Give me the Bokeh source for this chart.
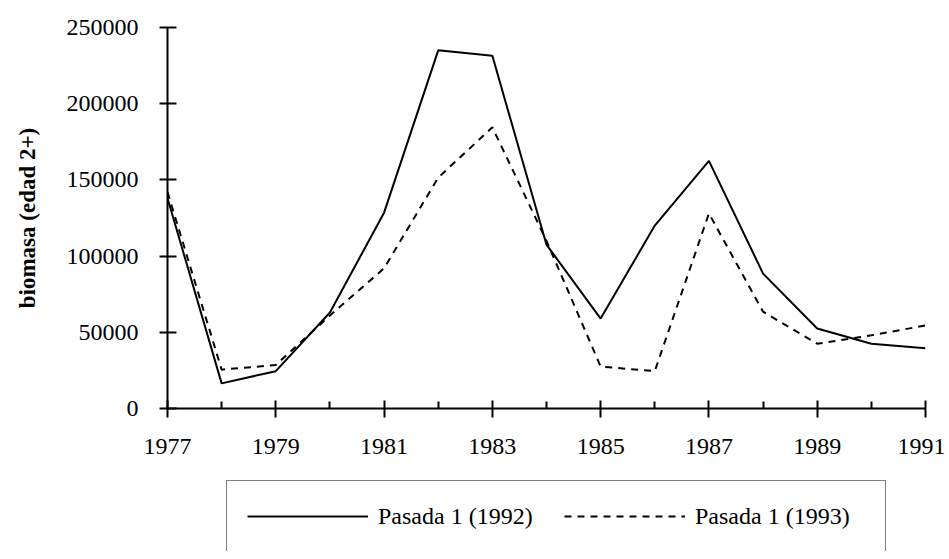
from bokeh.plotting import figure
from bokeh.layouts import column
from bokeh.models import (Range1d, FixedTicker, BasicTickFormatter, Legend, LegendItem)
from bokeh.embed import file_html
from bokeh.resources import INLINE

years = [1977, 1978, 1979, 1980, 1981, 1982, 1983, 1984, 1985, 1986, 1987, 1988, 1989, 1990, 1991]
run_1992 = [138000, 16500, 24500, 63000, 128500, 235000, 231500, 107500, 59000, 120000, 162500, 88500, 52500, 42500, 39500]
run_1993 = [142000, 25500, 28500, 61000, 92000, 151500, 184500, 110000, 27500, 24500, 128000, 63500, 42500, 48000, 54500]
x_major = [1977, 1979, 1981, 1983, 1985, 1987, 1989, 1991]
x_minor = [1978, 1980, 1982, 1984, 1986, 1988, 1990]
y_ticks = [0, 50000, 100000, 150000, 200000, 250000]
label_1992 = "Pasada 1 (1992)"
label_1993 = "Pasada 1 (1993)"
y_label = "biomasa (edad 2+)"

FONT = "Liberation Serif"
SOLID = dict(line_color="black", line_width=2)
DASHED = dict(line_color="black", line_width=2, line_dash="7 6")

p = figure(width=945, height=480, output_backend="svg", toolbar_location=None,
           x_range=Range1d(1977, 1991), y_range=Range1d(0, 250000),
           min_border_left=167, min_border_right=20, min_border_top=27, min_border_bottom=72)
p.outline_line_color = None
p.xgrid.grid_line_color = None
p.ygrid.grid_line_color = None
p.background_fill_color = "white"
p.border_fill_color = "white"

p.line(years, run_1992, **SOLID)
p.line(years, run_1993, **DASHED)

# x axis
xa = p.xaxis[0]
xa.ticker = FixedTicker(ticks=x_major, minor_ticks=x_minor)
xa.axis_line_width = 2
xa.major_tick_line_width = 2
xa.minor_tick_line_width = 2
xa.major_tick_in = 8
xa.major_tick_out = 9
xa.minor_tick_in = 7
xa.minor_tick_out = 0
xa.major_label_standoff = 21
xa.major_label_text_font = FONT
xa.major_label_text_font_size = "24px"
xa.major_label_text_color = "black"
xa.axis_line_color = "black"

# y axis
ya = p.yaxis[0]
ya.ticker = FixedTicker(ticks=y_ticks)
ya.formatter = BasicTickFormatter(use_scientific=False)
ya.axis_line_width = 2
ya.major_tick_line_width = 2
ya.major_tick_in = 9
ya.major_tick_out = 8
ya.minor_tick_in = 0
ya.minor_tick_out = 0
ya.major_label_standoff = 21
ya.major_label_text_font = FONT
ya.major_label_text_font_size = "24px"
ya.major_label_text_color = "black"
ya.axis_label = y_label
ya.axis_label_text_font = FONT
ya.axis_label_text_font_size = "23px"
ya.axis_label_text_font_style = "bold"
ya.axis_label_text_color = "black"
ya.axis_label_standoff = 24

# legend strip below the chart (same series, drawn outside this strip's visible range)
pl = figure(width=945, height=71, output_backend="svg", toolbar_location=None,
            x_axis_type=None, y_axis_type=None,
            x_range=Range1d(0, 1), y_range=Range1d(0, 1),
            min_border_left=0, min_border_right=0, min_border_top=0, min_border_bottom=0)
pl.outline_line_color = None
pl.xgrid.grid_line_color = None
pl.ygrid.grid_line_color = None
pl.background_fill_color = "white"
pl.border_fill_color = "white"
k1 = pl.line(years, run_1992, **SOLID)
k2 = pl.line(years, run_1993, **DASHED)

legend = Legend(items=[LegendItem(label=label_1992, renderers=[k1]),
                       LegendItem(label=label_1993, renderers=[k2])],
                orientation="horizontal", location=(59, -1), margin=0,
                padding=20, spacing=16, glyph_width=121, glyph_height=30,
                label_height=30, label_width=170, label_standoff=10,
                label_text_font=FONT, label_text_font_size="24px",
                label_text_color="black",
                border_line_color="black", border_line_width=1.5,
                background_fill_color="white", background_fill_alpha=1.0)
pl.add_layout(legend, "center")

layout = column(p, pl, spacing=0)
open("out.html", "w").write(file_html(layout, INLINE))
